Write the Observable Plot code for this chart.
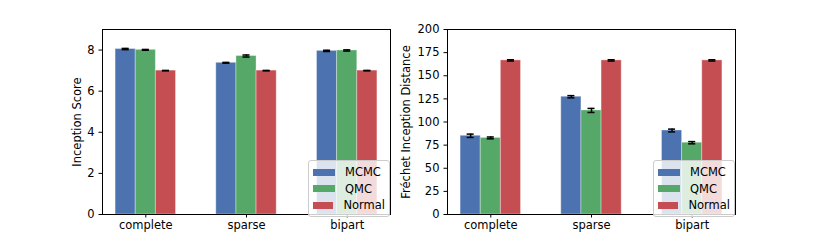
<!DOCTYPE html>
<html><head><meta charset="utf-8">
<script src="https://cdn.jsdelivr.net/npm/d3@7"></script>
<script src="https://cdn.jsdelivr.net/npm/@observablehq/plot@0.6"></script>
<style>
body{margin:0;background:#fff;font-family:"DejaVu Sans",sans-serif;}
#fig{position:relative;width:817px;height:245px;overflow:hidden;}
.panel{position:absolute;top:0;}
.legend{position:absolute;background:rgba(255,255,255,0.8);border:1px solid #cccccc;border-radius:3px;font-size:11.5px;color:#000;padding:3px 4px 2px 4px;box-sizing:border-box;}
.legend .row{display:flex;align-items:center;height:16.5px;}
.legend .sw{width:22px;height:7px;margin-right:10px;}
</style></head>
<body>
<div id="fig"></div>
<script>
const categories = ["complete", "sparse", "bipart"];
const series = ["MCMC", "QMC", "Normal"];
const colors = ["#4C72B0", "#55A868", "#C44E52"];

const isMCMC = [8.05, 7.38, 7.96];
const isQMC = [8.01, 7.71, 7.98];
const isNormal = [7.00, 7.00, 7.00];
const isErrMCMC = [0.03, 0.02, 0.03];
const isErrQMC = [0.02, 0.05, 0.03];
const isErrNormal = [0.01, 0.01, 0.01];

const fidMCMC = [85.1, 127.3, 90.8];
const fidQMC = [82.8, 112.5, 77.6];
const fidNormal = [166.6, 166.6, 166.6];
const fidErrMCMC = [1.8, 1.2, 1.5];
const fidErrQMC = [1.0, 2.2, 1.2];
const fidErrNormal = [0.7, 0.7, 0.7];

const isTicks = [0, 2, 4, 6, 8];
const fidTicks = [0, 25, 50, 75, 100, 125, 150, 175, 200];

function rowsOf(vals, errs) {
  const rows = [];
  series.forEach((s, j) => {
    categories.forEach((c, i) => {
      rows.push({cat: c, series: s, value: vals[j][i], err: errs[j][i], pos: i + (j - 1) * 0.2});
    });
  });
  return rows;
}

const isRows = rowsOf([isMCMC, isQMC, isNormal], [isErrMCMC, isErrQMC, isErrNormal]);
const fidRows = rowsOf([fidMCMC, fidQMC, fidNormal], [fidErrMCMC, fidErrQMC, fidErrNormal]);

function panel(rows, yDomain, yTicks, label, width, marginLeft, marginRight, labelOffset) {
  return Plot.plot({
    width, height: 245,
    marginTop: 29, marginBottom: 31, marginLeft, marginRight,
    style: {fontFamily: "DejaVu Sans", fontSize: "11px", color: "#000", background: "transparent", overflow: "visible"},
    x: {domain: [-0.43, 2.43]},
    y: {domain: yDomain},
    color: {domain: series, range: colors},
    marks: [
      Plot.rectY(rows, {x1: d => d.pos - 0.1, x2: d => d.pos + 0.1, y1: 0, y2: "value", fill: "series", stroke: "white", strokeOpacity: 0.35, strokeWidth: 1}),
      Plot.ruleX(rows, {x: "pos", y1: d => d.value - d.err, y2: d => d.value + d.err, stroke: "black", strokeWidth: 1.5}),
      Plot.ruleY(rows, {y: d => d.value + d.err, x1: d => d.pos - 0.035, x2: d => d.pos + 0.035, stroke: "black", strokeWidth: 1.5}),
      Plot.ruleY(rows, {y: d => d.value - d.err, x1: d => d.pos - 0.035, x2: d => d.pos + 0.035, stroke: "black", strokeWidth: 1.5}),
      Plot.axisX({ticks: [0, 1, 2], tickFormat: i => categories[i], tickSize: 3.5, tickPadding: 3, label: null, fontSize: 11.5}),
      Plot.axisY({ticks: yTicks, tickFormat: d => String(d), tickSize: 3.5, tickPadding: 4.5, label, labelAnchor: "center", labelArrow: "none", labelOffset, fontSize: 11.5}),
      Plot.frame({stroke: "black", strokeWidth: 1})
    ]
  });
}

function legend(left, top) {
  const el = document.createElement("div");
  el.className = "legend";
  el.style.left = left + "px";
  el.style.top = top + "px";
  el.style.width = "82px";
  series.forEach((s, j) => {
    const r = document.createElement("div");
    r.className = "row";
    const sw = document.createElement("div");
    sw.className = "sw";
    sw.style.background = colors[j];
    const t = document.createElement("span");
    t.textContent = s;
    r.appendChild(sw); r.appendChild(t);
    el.appendChild(r);
  });
  return el;
}

const fig = document.getElementById("fig");
const p1 = panel(isRows, [0, 9], isTicks, "Inception Score", 400, 102, 10, 30);
p1.classList.add("panel"); p1.style.left = "0px";
const p2 = panel(fidRows, [0, 200], fidTicks, "Fréchet Inception Distance", 437, 67, 82, 46);
p2.classList.add("panel"); p2.style.left = "380px";
fig.appendChild(p1);
fig.appendChild(p2);
fig.appendChild(legend(308, 160));
fig.appendChild(legend(653, 160));
</script>
</body></html>
